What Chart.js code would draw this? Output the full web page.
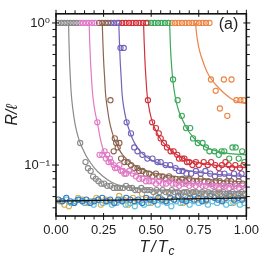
<!DOCTYPE html>
<html><head><meta charset="utf-8">
<script src="https://cdn.jsdelivr.net/npm/chart.js@4.4.1/dist/chart.umd.min.js"></script>
<style>html,body{margin:0;padding:0;background:#fff;overflow:hidden}canvas{display:block}</style>
</head><body>
<canvas id="c" width="266" height="261"></canvas>
<script>
// ---- tick definitions ----
const xTickValues = [0,0.05,0.1,0.15,0.2,0.25,0.3,0.35,0.4,0.45,0.5,0.55,0.6,0.65,0.7,0.75,0.8,0.85,0.9,0.95,1.0];
const xTickLabels = {0:'0.00',0.25:'0.25',0.5:'0.50',0.75:'0.75',1:'1.00'};
const yTickValues = [0.05,0.06,0.07,0.08,0.09,0.1,0.2,0.3,0.4,0.5,0.6,0.7,0.8,0.9,1.0];
const yTickLabels = {1:'10\u2070',0.1:'10\u207B\u00B9'};
const xRange = [0,1];
const yRange = [0.0438,1.16];

// ---- data points (T/Tc, R/l) ----
const grayPts = [[0.012,1],[0.028,1],[0.044,1],[0.06,1],[0.076,1],[0.092,1],[0.108,1],
 [0.127,0.143],[0.155,0.105],[0.168,0.095],[0.182,0.091],[0.195,0.083],[0.209,0.08],[0.223,0.077],[0.238,0.074],[0.253,0.074],[0.269,0.0714],[0.286,0.0714],[0.303,0.069],[0.32,0.069],[0.336,0.069],[0.352,0.069],[0.368,0.0714],[0.384,0.069],[0.40,0.069],[0.416,0.0667],[0.432,0.0667],[0.448,0.069],[0.464,0.0667],[0.48,0.0667],[0.496,0.0667],[0.512,0.0645],[0.528,0.0667],[0.544,0.0645],[0.56,0.0667],[0.576,0.0645],[0.592,0.0645],[0.608,0.0667],[0.624,0.0645],[0.64,0.0645],[0.656,0.0625],[0.672,0.0645],[0.688,0.0645],[0.704,0.0625],[0.72,0.0645],[0.736,0.0645],[0.752,0.0625],[0.768,0.0645],[0.784,0.0625],[0.8,0.0645],[0.816,0.0625],[0.832,0.0645],[0.848,0.0625],[0.864,0.0625],[0.88,0.0645],[0.896,0.0625],[0.912,0.0625],[0.928,0.0645],[0.944,0.0625],[0.96,0.0625],[0.976,0.0645],[0.992,0.0625]];
const pinkPts = [[0.125,1],[0.141,1],[0.157,1],[0.173,1],[0.19,1],[0.206,1],
 [0.217,0.2],[0.229,0.118],[0.243,0.118],[0.255,0.125],[0.262,0.111],[0.269,0.118],[0.276,0.105],[0.283,0.111],[0.29,0.105],[0.303,0.1],[0.31,0.0952],[0.321,0.0952],[0.333,0.1],[0.342,0.0909],[0.351,0.0909],[0.359,0.087],[0.368,0.087],[0.385,0.0909],[0.403,0.087],[0.42,0.0833],[0.437,0.08],[0.455,0.08],[0.472,0.0769],[0.49,0.0769],[0.507,0.0769],[0.525,0.074],[0.542,0.0769],[0.56,0.074],[0.578,0.074],[0.595,0.0769],[0.612,0.074],[0.63,0.074],[0.647,0.0714],[0.665,0.074],[0.682,0.074],[0.70,0.0714],[0.717,0.074],[0.734,0.0714],[0.752,0.074],[0.77,0.0714],[0.787,0.0714],[0.804,0.074],[0.822,0.0714],[0.84,0.0714],[0.857,0.069],[0.874,0.0714],[0.892,0.0714],[0.91,0.069],[0.927,0.0714],[0.944,0.0714],[0.962,0.069],[0.98,0.0714]];
const brownPts = [[0.226,1],[0.243,1],[0.26,1],[0.274,1],
 [0.286,0.286],[0.303,0.125],[0.309,0.154],[0.316,0.143],[0.324,0.133],[0.333,0.143],[0.342,0.111],[0.359,0.105],[0.377,0.105],[0.394,0.1],[0.411,0.0952],[0.428,0.0952],[0.437,0.0909],[0.455,0.0909],[0.472,0.087],[0.49,0.087],[0.507,0.0833],[0.525,0.087],[0.542,0.0833],[0.56,0.0833],[0.576,0.08],[0.594,0.0833],[0.611,0.08],[0.628,0.08],[0.646,0.0769],[0.663,0.08],[0.68,0.0769],[0.70,0.08],[0.72,0.0769],[0.74,0.0769],[0.76,0.08],[0.78,0.0769],[0.8,0.0769],[0.82,0.074],[0.84,0.0769],[0.86,0.0769],[0.88,0.074],[0.9,0.0769],[0.92,0.0769],[0.94,0.074],[0.96,0.0769],[0.98,0.074]];
const purplePts = [[0.29,1],[0.306,1],[0.322,1],
 [0.339,0.667],[0.356,0.667],[0.371,0.2],[0.394,0.167],[0.411,0.133],[0.428,0.125],[0.454,0.118],[0.48,0.111],[0.507,0.111],[0.533,0.105],[0.55,0.105],[0.576,0.1],[0.60,0.1],[0.628,0.0952],[0.646,0.0909],[0.665,0.0909],[0.685,0.087],[0.71,0.087],[0.735,0.0909],[0.76,0.087],[0.785,0.0909],[0.81,0.087],[0.835,0.0833],[0.86,0.087],[0.885,0.087],[0.91,0.0833],[0.935,0.087],[0.96,0.0833],[0.975,0.087]];
const redPts = [[0.33,1],[0.348,1],[0.366,1],[0.384,1],[0.402,1],[0.42,1],[0.438,1],[0.456,1],[0.474,1],
 [0.483,0.286],[0.505,0.2],[0.525,0.182],[0.54,0.167],[0.55,0.154],[0.567,0.143],[0.583,0.133],[0.602,0.125],[0.618,0.125],[0.637,0.118],[0.646,0.111],[0.663,0.111],[0.675,0.111],[0.688,0.105],[0.70,0.105],[0.717,0.1],[0.735,0.105],[0.75,0.1],[0.776,0.105],[0.797,0.1],[0.815,0.105],[0.837,0.1],[0.855,0.0952],[0.872,0.1],[0.89,0.105],[0.907,0.1],[0.925,0.0952],[0.942,0.1],[0.966,0.0952],[0.985,0.1]];
const greenPts = [[0.482,1],[0.5,1],[0.518,1],[0.536,1],[0.554,1],[0.572,1],[0.59,1],
 [0.615,0.4],[0.639,0.286],[0.661,0.222],[0.683,0.182],[0.705,0.182],[0.72,0.154],[0.745,0.143],[0.77,0.143],[0.788,0.133],[0.806,0.125],[0.832,0.125],[0.855,0.118],[0.87,0.125],[0.884,0.125],[0.91,0.111],[0.927,0.133],[0.944,0.133],[0.96,0.111],[0.978,0.125],[0.99,0.105]];
const orangePts = [[0.608,1],[0.626,1],[0.644,1],[0.662,1],[0.68,1],[0.698,1],[0.716,1],[0.734,1],[0.752,1],[0.77,1],[0.788,1],[0.806,1],
 [0.814,0.4],[0.839,0.333],[0.861,0.25],[0.882,0.4],[0.90,0.222],[0.922,0.4],[0.948,0.286],[0.969,0.286],[0.986,0.286]];
const bluePts = [[0.012,0.0571],[0.033,0.0556],[0.054,0.0588],[0.075,0.0556],[0.096,0.0541],[0.117,0.0571],[0.138,0.0556],[0.159,0.0571],[0.18,0.0541],[0.201,0.0556],[0.222,0.0571],[0.243,0.0588],[0.264,0.0556],[0.285,0.0571],[0.306,0.0541],[0.327,0.0571],[0.348,0.0556],[0.369,0.0588],[0.39,0.0571],[0.411,0.0556],[0.432,0.0571],[0.453,0.0541],[0.474,0.0588],[0.495,0.0571],[0.516,0.0556],[0.537,0.0588],[0.558,0.0571],[0.579,0.0556],[0.6,0.0588],[0.621,0.0571],[0.642,0.0606],[0.663,0.0571],[0.684,0.0556],[0.705,0.0588],[0.726,0.0571],[0.747,0.0588],[0.768,0.0556],[0.789,0.0571],[0.81,0.0606],[0.831,0.0588],[0.852,0.0571],[0.873,0.0556],[0.894,0.0588],[0.915,0.0606],[0.936,0.0571],[0.957,0.0588],[0.978,0.0571]];
const olivePts = [[0.02,0.0556],[0.044,0.0526],[0.068,0.0513],[0.092,0.0541],[0.116,0.0588],[0.14,0.0571],[0.164,0.0541],[0.188,0.0556],[0.212,0.0588],[0.236,0.0526],[0.26,0.0571],[0.284,0.0556],[0.308,0.0541],[0.332,0.0606],[0.356,0.0571],[0.38,0.0526],[0.404,0.0588],[0.428,0.0556],[0.452,0.0625],[0.476,0.0571],[0.5,0.0541],[0.524,0.0606],[0.548,0.0588],[0.572,0.0556],[0.596,0.0625],[0.62,0.0571],[0.644,0.0606],[0.668,0.0541],[0.692,0.0588],[0.716,0.0645],[0.74,0.0571],[0.764,0.0625],[0.788,0.0556],[0.812,0.0606],[0.836,0.0588],[0.86,0.0645],[0.884,0.0571],[0.908,0.0606],[0.932,0.0541],[0.956,0.0625],[0.98,0.0588]];
const cyanPts = [[0.03,0.0556],[0.054,0.0571],[0.078,0.0541],[0.102,0.0556],[0.126,0.0571],[0.15,0.0541],[0.174,0.0556],[0.198,0.0526],[0.222,0.0571],[0.246,0.0541],[0.27,0.0556],[0.294,0.0526],[0.318,0.0541],[0.342,0.0571],[0.366,0.0526],[0.39,0.0541],[0.414,0.0513],[0.438,0.0556],[0.462,0.0526],[0.486,0.0541],[0.51,0.0571],[0.534,0.0526],[0.558,0.0556],[0.582,0.0541],[0.606,0.0513],[0.63,0.0556],[0.654,0.0541],[0.678,0.0571],[0.702,0.0526],[0.726,0.0556],[0.75,0.0541],[0.774,0.0571],[0.798,0.0526],[0.822,0.0556],[0.846,0.0541],[0.87,0.0571],[0.894,0.0526],[0.918,0.0541],[0.942,0.0556],[0.966,0.0526],[0.99,0.0541]];

// ---- fitted curves, sampled off the figure ----
const grayFit = [[0.066,1.0],[0.068,0.75],[0.071,0.55],[0.075,0.42],[0.08,0.32],[0.088,0.25],[0.1,0.195],[0.115,0.16],[0.13,0.14],[0.15,0.122],[0.165,0.112],[0.2,0.096],[0.243,0.084],[0.29,0.076],[0.34,0.0715],[0.4,0.069],[0.5,0.0672],[0.6,0.0663],[0.8,0.0655],[1.0,0.065]];
const pinkFit = [[0.174,1.0],[0.177,0.75],[0.181,0.55],[0.186,0.42],[0.192,0.32],[0.2,0.26],[0.21,0.22],[0.217,0.2],[0.23,0.16],[0.245,0.132],[0.26,0.117],[0.28,0.107],[0.3,0.101],[0.34,0.095],[0.4,0.088],[0.5,0.081],[0.6,0.077],[0.8,0.073],[1.0,0.070]];
const brownFit = [[0.243,1.0],[0.246,0.75],[0.25,0.55],[0.255,0.42],[0.26,0.32],[0.27,0.25],[0.28,0.205],[0.295,0.17],[0.31,0.148],[0.33,0.13],[0.35,0.118],[0.4,0.102],[0.45,0.094],[0.5,0.089],[0.6,0.084],[0.8,0.079],[1.0,0.076]];
const purpleFit = [[0.33,1.0],[0.333,0.75],[0.337,0.55],[0.342,0.42],[0.347,0.32],[0.355,0.26],[0.37,0.205],[0.39,0.168],[0.41,0.145],[0.44,0.126],[0.48,0.113],[0.53,0.104],[0.6,0.097],[0.7,0.091],[0.8,0.087],[0.9,0.085],[1.0,0.083]];
const redFit = [[0.46,1.0],[0.463,0.75],[0.467,0.55],[0.472,0.42],[0.478,0.32],[0.487,0.26],[0.5,0.215],[0.52,0.18],[0.55,0.152],[0.585,0.134],[0.62,0.122],[0.66,0.113],[0.7,0.108],[0.8,0.101],[0.9,0.098],[1.0,0.096]];
const greenFit = [[0.597,1.0],[0.6,0.75],[0.605,0.55],[0.612,0.42],[0.62,0.34],[0.63,0.285],[0.645,0.24],[0.667,0.205],[0.69,0.178],[0.72,0.157],[0.75,0.143],[0.8,0.131],[0.85,0.125],[0.9,0.121],[1.0,0.118]];
const orangeFit = [[0.733,1.0],[0.738,0.85],[0.745,0.73],[0.755,0.63],[0.767,0.56],[0.785,0.48],[0.802,0.43],[0.83,0.38],[0.854,0.35],[0.89,0.315],[0.923,0.292],[0.96,0.278],[1.0,0.27]];
const blackFit = [[0,0.0557],[1,0.0587]];

const colors = {gray:'#8a8a8a',pink:'#e07ac6',brown:'#8c6450',purple:'#7462bb',red:'#d2323c',green:'#3ca85a',orange:'#ec8444',blue:'#3a78c0',olive:'#d6b050',cyan:'#5ec2e2',black:'#111111'};

function pts(arr){return arr.map(p=>({x:p[0],y:p[1]}));}
function scatterDs(arr,c){return {data:pts(arr),showLine:false,pointRadius:2.6,pointHoverRadius:2.6,pointBorderWidth:1.1,pointBorderColor:c,pointBackgroundColor:'rgba(0,0,0,0)',borderColor:c};}
function lineDs(arr,c){return {data:pts(arr),showLine:true,pointRadius:0,borderWidth:1.2,borderColor:c,cubicInterpolationMode:'monotone',fill:false};}

// drawing sequence: first = bottom
const seq = [
 scatterDs(olivePts,colors.olive), scatterDs(cyanPts,colors.cyan), scatterDs(bluePts,colors.blue), lineDs(blackFit,colors.black),
 scatterDs(orangePts,colors.orange), lineDs(orangeFit,colors.orange),
 scatterDs(greenPts,colors.green), lineDs(greenFit,colors.green),
 scatterDs(redPts,colors.red), lineDs(redFit,colors.red),
 scatterDs(purplePts,colors.purple), lineDs(purpleFit,colors.purple),
 scatterDs(brownPts,colors.brown), lineDs(brownFit,colors.brown),
 scatterDs(pinkPts,colors.pink), lineDs(pinkFit,colors.pink),
 scatterDs(grayPts,colors.gray), lineDs(grayFit,colors.gray)
];
seq.forEach((d,i)=>{d.order = seq.length - i;});

const FONT = 'Liberation Sans, Arial, DejaVu Sans, sans-serif';
function isMajorX(v){return Math.abs(v*4-Math.round(v*4))<1e-9;}
function isMajorY(v){return Math.abs(v-1)<1e-9||Math.abs(v-0.1)<1e-9;}

const frame = {
 id:'frame',
 afterDraw(chart){
  const {ctx, chartArea:a} = chart;
  const xs = chart.scales.x, ys = chart.scales.y;
  ctx.save();
  ctx.strokeStyle='#111';
  ctx.lineWidth=1;
  const seg=(x1,y1,x2,y2)=>{ctx.beginPath();ctx.moveTo(x1,y1);ctx.lineTo(x2,y2);ctx.stroke();};
  xTickValues.forEach(v=>{
   const p = xs.getPixelForValue(v);
   const M = isMajorX(v); const inn = M?3:0, out = M?4:3.5;
   seg(p,a.bottom-inn,p,a.bottom+out);
   seg(p,a.top+inn,p,a.top-out);
  });
  yTickValues.forEach(v=>{
   const p = ys.getPixelForValue(v);
   const M = isMajorY(v); const inn = M?3:0, out = M?4:3.5;
   seg(a.left+inn,p,a.left-out,p);
   seg(a.right-inn,p,a.right+out,p);
  });
  ctx.lineWidth=1.6;
  ctx.strokeRect(a.left,a.top,a.right-a.left,a.bottom-a.top);
  ctx.fillStyle='#222';
  // (a)
  ctx.font='16px '+FONT;
  ctx.textAlign='right'; ctx.textBaseline='alphabetic';
  ctx.fillText('(a)', a.right-8, 29);
  // y title
  ctx.save();
  ctx.translate(13, (a.top+a.bottom)/2);
  ctx.rotate(-Math.PI/2);
  ctx.font='italic 16px '+FONT;
  ctx.textAlign='center'; ctx.textBaseline='middle';
  ctx.fillText('R/\u2113',0,0);
  ctx.restore();
  // x title with subscript
  const parts=['T','/','T'];
  ctx.font='italic 16px '+FONT;
  const gap=2;
  const widths=parts.map(s=>ctx.measureText(s).width);
  ctx.font='italic 12px '+FONT;
  const wc=ctx.measureText('c').width;
  const total=widths.reduce((s,w)=>s+w,0)+gap*2+1+wc;
  const cx = 157; const base = 252;
  let xx = cx-total/2;
  ctx.textAlign='left';
  ctx.font='italic 16px '+FONT;
  parts.forEach((s,i)=>{ctx.fillText(s,xx,base);xx+=widths[i]+(i<2?gap:0);});
  ctx.font='italic 12px '+FONT;
  ctx.fillText('c',xx+1,base+3);
  ctx.restore();
 }
};

new Chart(document.getElementById('c'),{
 type:'line',
 data:{datasets:seq},
 options:{
  responsive:false, animation:false, devicePixelRatio:1,
  layout:{padding:{left:0,right:19,top:9,bottom:0}},
  plugins:{legend:{display:false},tooltip:{enabled:false}},
  scales:{
   x:{type:'linear',min:xRange[0],max:xRange[1],
      afterBuildTicks:s=>{s.ticks=xTickValues.map(v=>({value:v}));},
      afterFit:s=>{s.height=45;},
      grid:{display:false,drawTicks:false},border:{display:false},
      ticks:{autoSkip:false,maxRotation:0,padding:7,color:'#222',font:{family:FONT,size:13},
        callback:v=>{for(const k in xTickLabels){if(Math.abs(v-Number(k))<1e-9)return xTickLabels[k];}return '';}}},
   y:{type:'logarithmic',min:yRange[0],max:yRange[1],
      afterBuildTicks:s=>{s.ticks=yTickValues.map(v=>({value:v}));},
      afterFit:s=>{s.width=56;},
      grid:{display:false,drawTicks:false},border:{display:false},
      ticks:{autoSkip:false,padding:6,color:'#222',font:{family:FONT,size:13},
        callback:v=>{for(const k in yTickLabels){if(Math.abs(v-Number(k))<1e-9)return yTickLabels[k];}return '';}}}
  }
 },
 plugins:[frame]
});
</script>
</body></html>
